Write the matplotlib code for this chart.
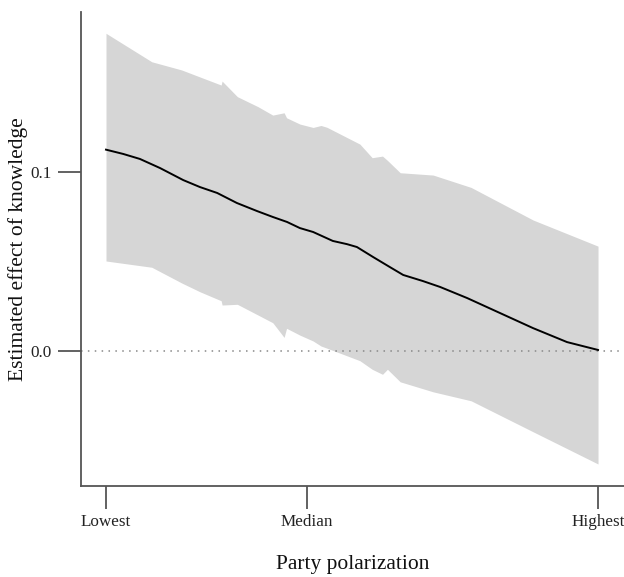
import matplotlib
matplotlib.use("Agg")
import matplotlib.pyplot as plt

# Data (x: 0 = lowest polarization, 1 = highest)
line_x = [0.000, 0.035, 0.069, 0.110, 0.157, 0.191, 0.226, 0.266, 0.307, 0.339, 0.368,
          0.394, 0.421, 0.461, 0.490, 0.510, 0.543, 0.577, 0.604, 0.644, 0.679, 0.734,
          0.801, 0.868, 0.937, 1.000]
line_y = [0.1125, 0.1101, 0.1073, 0.1022, 0.0955, 0.0916, 0.0883, 0.0827, 0.0782, 0.0749, 0.0721,
          0.0687, 0.0665, 0.0615, 0.0597, 0.0581, 0.0525, 0.0469, 0.0425, 0.0391, 0.0358, 0.0296,
          0.0212, 0.0128, 0.0050, 0.0006]

band_x = [0.000, 0.093, 0.154, 0.191, 0.234, 0.236, 0.267, 0.309, 0.339, 0.362,
          0.367, 0.394, 0.421, 0.437, 0.449, 0.516, 0.541, 0.562, 0.572, 0.598,
          0.665, 0.742, 0.868, 1.000]
band_upper = [0.1775, 0.1616, 0.1570, 0.1531, 0.1486, 0.1508, 0.1421, 0.1365, 0.1318, 0.1331,
              0.1303, 0.1268, 0.1249, 0.1260, 0.1250, 0.1156, 0.1080, 0.1089, 0.1065, 0.0996,
              0.0983, 0.0914, 0.0732, 0.0586]
band_lower = [0.0503, 0.0468, 0.0380, 0.0331, 0.0281, 0.0257, 0.0261, 0.0201, 0.0158, 0.0076,
              0.0127, 0.0089, 0.0056, 0.0028, 0.0016, -0.0054, -0.0102, -0.0130, -0.0102, -0.0172,
              -0.0228, -0.0278, -0.0451, -0.0631]

x_tick_pos = [0.0, 0.408, 1.0]
x_tick_labels = ["Lowest", "Median", "Highest"]
y_tick_pos = [0.0, 0.1]
y_tick_labels = ["0.0", "0.1"]

plt.rcParams['font.family'] = ['Liberation Serif', 'DejaVu Serif']

fig = plt.figure(figsize=(6.24, 5.77), dpi=100)
ax = fig.add_axes([81/624, 1 - 486/577, 1 - 81/624, (486 - 12)/577])

ax.fill_between(band_x, band_lower, band_upper, color='#d6d6d6', linewidth=0, zorder=1)
ax.axhline(0, color='#888888', linestyle=(0, (1, 3.5)), linewidth=1.1, zorder=2)
ax.plot(line_x, line_y, color='black', linewidth=1.4, zorder=3,
        solid_joinstyle='round')

ax.set_xlim(-0.0508, 1.0528)
ax.set_ylim(-0.0754, 0.1894)

for s in ['top', 'right']:
    ax.spines[s].set_visible(False)
for s in ['left', 'bottom']:
    ax.spines[s].set_color('#555555')
    ax.spines[s].set_linewidth(1.3)

ax.set_xticks(x_tick_pos)
ax.set_xticklabels(x_tick_labels)
ax.set_yticks(y_tick_pos)
ax.set_yticklabels(y_tick_labels)
ax.tick_params(axis='both', length=16.5, width=1.3, color='#555555', labelsize=12.3,
               labelcolor='#222222')
ax.tick_params(axis='x', pad=3.5)
ax.tick_params(axis='y', pad=4.3)

ax.set_xlabel("Party polarization", fontsize=15.5, labelpad=18.5, color='#111111')
ax.set_ylabel("Estimated effect of knowledge", fontsize=15.5, labelpad=2, color='#111111')

fig.savefig("out.png", dpi=100)
